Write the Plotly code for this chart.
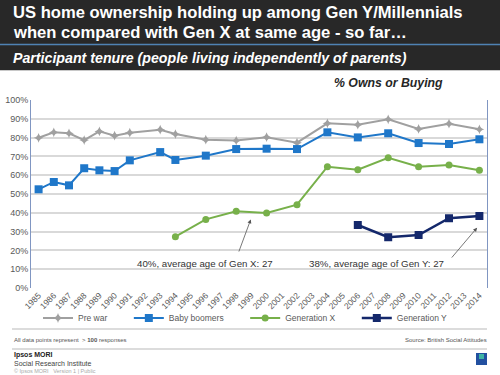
import plotly.graph_objects as go

# ---- data ----
years_all = list(range(1985, 2015))
tick_labels = [str(y) for y in years_all]
prewar_years = [1985, 1986, 1987, 1988, 1989, 1990, 1991, 1993, 1994, 1996, 1998,
                2000, 2002, 2004, 2006, 2008, 2010, 2012, 2014]
prewar = [79.9, 82.8, 82.3, 78.7, 83.3, 81.0, 82.6, 84.2, 81.9, 78.9, 78.4,
          80.2, 77.3, 87.6, 86.9, 89.7, 84.6, 87.4, 84.4]
boomers = [52.5, 56.4, 54.6, 63.7, 62.6, 62.2, 67.9, 72.3, 68.1, 70.4, 73.9,
           74.1, 73.9, 82.8, 80.1, 82.3, 77.1, 76.6, 79.1]
genx_years = [1994, 1996, 1998, 2000, 2002, 2004, 2006, 2008, 2010, 2012, 2014]
genx = [27.3, 36.5, 40.8, 39.9, 44.3, 64.5, 62.9, 69.3, 64.5, 65.4, 62.6]
geny_years = [2006, 2008, 2010, 2012, 2014]
geny = [33.5, 27.0, 28.2, 37.1, 38.3]
series_names = ["Pre war", "Baby boomers", "Generation X", "Generation Y"]

FONT = "Arial, Liberation Sans, sans-serif"
W, H = 500, 375
L, R, T, B = 31, 13, 100, 87
PW, PH = W - L - R, H - T - B
PAD = "\u00a0" * 7


def PX(x):
    return (x - L) / PW


def PY(y):
    return (H - B - y) / PH


fig = go.Figure()
fig.add_trace(go.Scatter(x=prewar_years, y=prewar, name=series_names[0] + PAD, mode="lines+markers",
                         line=dict(color="#a0a0a0", width=2),
                         marker=dict(symbol="star-diamond", size=7, color="#a0a0a0")))
fig.add_trace(go.Scatter(x=prewar_years, y=boomers, name=series_names[1] + PAD, mode="lines+markers",
                         line=dict(color="#1f77c9", width=2),
                         marker=dict(symbol="square", size=8, color="#1f77c9")))
fig.add_trace(go.Scatter(x=genx_years, y=genx, name=series_names[2] + PAD, mode="lines+markers",
                         line=dict(color="#77b04a", width=2),
                         marker=dict(symbol="circle", size=7, color="#77b04a")))
fig.add_trace(go.Scatter(x=geny_years, y=geny, name=series_names[3], mode="lines+markers",
                         line=dict(color="#14286b", width=2.5),
                         marker=dict(symbol="square", size=8, color="#14286b")))

shapes = [
    dict(type="rect", xref="paper", yref="paper", x0=PX(0), x1=PX(500), y0=PY(0), y1=PY(70),
         fillcolor="#282828", line=dict(width=0), layer="below"),
    dict(type="line", xref="paper", yref="paper", x0=PX(0), x1=PX(500), y0=PY(44.5), y1=PY(44.5),
         line=dict(color="#4f82b4", width=1.5)),
    dict(type="line", xref="paper", yref="paper", x0=PX(0), x1=PX(500), y0=PY(70.5), y1=PY(70.5),
         line=dict(color="#c8c8c8", width=1)),
    dict(type="line", xref="paper", yref="paper", x0=PX(12), x1=PX(487), y0=PY(329), y1=PY(329),
         line=dict(color="#dcdcdc", width=2)),
    dict(type="line", xref="paper", yref="paper", x0=PX(12), x1=PX(487), y0=PY(349), y1=PY(349),
         line=dict(color="#dcdcdc", width=2)),
    dict(type="rect", xref="paper", yref="paper", x0=PX(476), x1=PX(487), y0=PY(353), y1=PY(365),
         fillcolor="#2350a0", line=dict(width=0)),
    dict(type="rect", xref="paper", yref="paper", x0=PX(479), x1=PX(484), y0=PY(354), y1=PY(359),
         fillcolor="#3fb5a5", line=dict(width=0)),
]

annotations = [
    dict(text="<b>US home ownership holding up among Gen Y/Millennials</b>", x=PX(11), y=PY(13),
         xanchor="left", yanchor="middle", font=dict(family=FONT, size=16.6, color="white"),
         xref="paper", yref="paper", showarrow=False),
    dict(text="<b>when compared with Gen X at same age - so far…</b>", x=PX(11), y=PY(33),
         xanchor="left", yanchor="middle", font=dict(family=FONT, size=16.6, color="white"),
         xref="paper", yref="paper", showarrow=False),
    dict(text="<b><i>Participant tenure (people living independently of parents)</i></b>", x=PX(11), y=PY(58),
         xanchor="left", yanchor="middle", font=dict(family=FONT, size=14.2, color="white"),
         xref="paper", yref="paper", showarrow=False),
    dict(text="<b><i>% Owns or Buying</i></b>", x=PX(388), y=PY(83),
         xanchor="center", yanchor="middle", font=dict(family=FONT, size=12.3, color="#262626"),
         xref="paper", yref="paper", showarrow=False),
    dict(text="40%, average age of Gen X: 27", x=PX(205), y=PY(263),
         xanchor="center", yanchor="middle", font=dict(family=FONT, size=9.7, color="#333333"),
         xref="paper", yref="paper", showarrow=False),
    dict(text="38%, average age of Gen Y: 27", x=PX(376), y=PY(263),
         xanchor="center", yanchor="middle", font=dict(family=FONT, size=9.7, color="#333333"),
         xref="paper", yref="paper", showarrow=False),
    dict(text="", x=1998.96, y=36.5, ax=1998.14, ay=18.6, xref="x", yref="y", axref="x", ayref="y",
         showarrow=True, arrowhead=2, arrowsize=1, arrowwidth=0.8, arrowcolor="#555555"),
    dict(text="", x=2013.85, y=32.1, ax=2012.1, ay=15.4, xref="x", yref="y", axref="x", ayref="y",
         showarrow=True, arrowhead=2, arrowsize=1, arrowwidth=0.8, arrowcolor="#555555"),
    dict(text="All data points represent  > <b>100</b> responses", x=PX(12), y=PY(340),
         xanchor="left", yanchor="middle", font=dict(family=FONT, size=6, color="#555555"),
         xref="paper", yref="paper", showarrow=False),
    dict(text="Source: British Social Attitudes", x=PX(489), y=PY(340),
         xanchor="right", yanchor="middle", font=dict(family=FONT, size=6, color="#555555"),
         xref="paper", yref="paper", showarrow=False),
    dict(text="<b>Ipsos MORI</b>", x=PX(12), y=PY(355),
         xanchor="left", yanchor="middle", font=dict(family=FONT, size=7, color="#222222"),
         xref="paper", yref="paper", showarrow=False),
    dict(text="Social Research Institute", x=PX(12), y=PY(363),
         xanchor="left", yanchor="middle", font=dict(family=FONT, size=7, color="#444444"),
         xref="paper", yref="paper", showarrow=False),
    dict(text="© Ipsos MORI   Version 1 | Public", x=PX(12), y=PY(370.5),
         xanchor="left", yanchor="middle", font=dict(family=FONT, size=5.5, color="#aaaaaa"),
         xref="paper", yref="paper", showarrow=False),
]

fig.update_layout(
    width=W, height=H,
    margin=dict(l=L, r=R, t=T, b=B, pad=0, autoexpand=False),
    paper_bgcolor="white", plot_bgcolor="white",
    font=dict(family=FONT, color="#595959"),
    shapes=shapes, annotations=annotations,
    showlegend=True,
    legend=dict(orientation="h", x=PX(38), y=PY(318), xanchor="left", yanchor="middle",
                font=dict(size=8.5, color="#595959"),
                bgcolor="rgba(0,0,0,0)", tracegroupgap=0),
    xaxis=dict(range=[1984.5, 2014.5], tickmode="array", tickvals=years_all, ticktext=tick_labels,
               tickangle=-45, tickfont=dict(size=8.5, color="#595959"), showgrid=False,
               showline=False, zeroline=False, ticks="", automargin=False),
    yaxis=dict(range=[0, 100], dtick=10, ticksuffix="%", tickfont=dict(size=9, color="#595959"),
               gridcolor="#d9d9d9", gridwidth=2, showline=True, linecolor="#8096c2", linewidth=1,
               mirror=True, zeroline=False, ticks="", automargin=False),
)

fig.write_html("out.html", config={"displayModeBar": False},
               post_script="document.body.style.margin='0';document.body.style.overflow='hidden';")
